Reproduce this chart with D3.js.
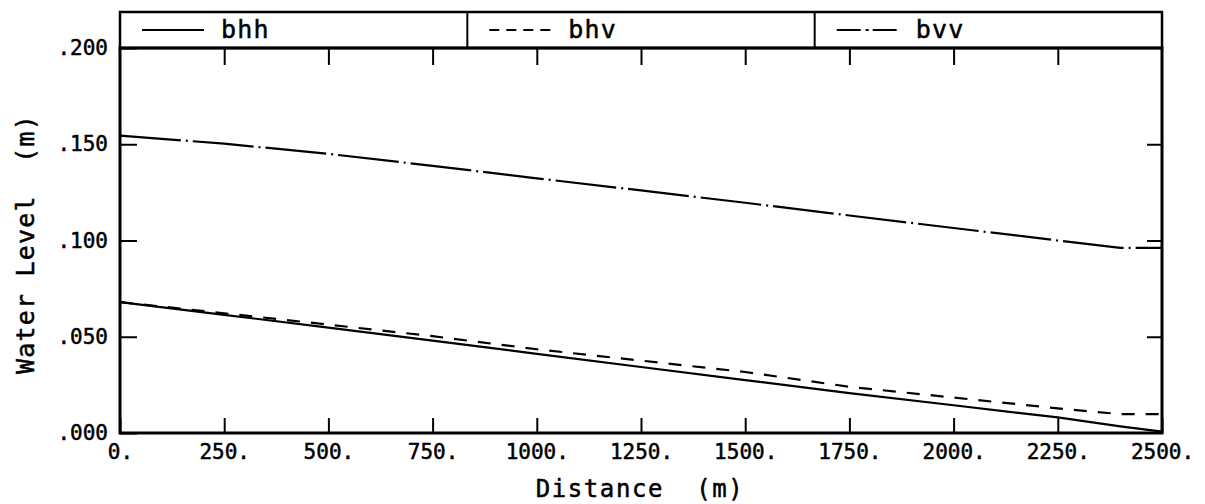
<!DOCTYPE html>
<html>
<head>
<meta charset="utf-8">
<script src="https://cdn.jsdelivr.net/npm/d3@7"></script>
<style>
  body { margin: 0; background: #fff; }
  svg text { font-family: "DejaVu Sans Mono", monospace; fill: #000; stroke: #000; stroke-width: 0.5px; }
</style>
</head>
<body>
<div class="viewbox"></div>
<script>
// water level along the channel
const distance = [0, 250, 500, 750, 1000, 1250, 1500, 1750, 2000, 2250, 2400, 2500];
const bhh = [0.068, 0.0614, 0.0547, 0.048, 0.0411, 0.0343, 0.0275, 0.0207, 0.0144, 0.0081, 0.0034, 0.0007];
const bhv = [0.068, 0.0622, 0.0563, 0.0503, 0.0435, 0.0376, 0.0317, 0.0240, 0.0184, 0.0128, 0.0098, 0.0098];
const bvv = [0.1545, 0.1503, 0.145, 0.1388, 0.1323, 0.126, 0.1196, 0.113, 0.1065, 0.100, 0.0962, 0.0962];

const seriesNames = ["bhh", "bhv", "bvv"];
const xTicks = [0, 250, 500, 750, 1000, 1250, 1500, 1750, 2000, 2250, 2500];
const yTicks = [0, 0.05, 0.1, 0.15, 0.2];

const svg_width = 1205;
const svg_height = 504;
// plot box edges (note: "top" is a window global, so use other names)
const plotL = 120, plotR = 1162, plotT = 48, plotB = 433;
const legendTop = 12;

// dash styles per series (plotter style line types)
const dashes = { bhh: null, bhv: "13,11", bvv: "61,5,2,5" };
const legendDashes = { bhh: null, bhv: "10,7", bvv: "24,5,3,4" };

let svg = d3.select(".viewbox")
  .append("svg")
  .attr("width", svg_width)
  .attr("height", svg_height);

let x = d3.scaleLinear().domain([0, 2500]).range([plotL, plotR]);
let y = d3.scaleLinear().domain([0, 0.2]).range([plotB, plotT]);

const yFmt = d => d3.format(".3f")(d).replace(/^0/, "");
const xFmt = d => d + ".";

// bottom axis, ticks pointing inwards
let xAxis = svg.append("g")
  .attr("transform", `translate(0,${plotB})`)
  .call(d3.axisBottom(x).tickValues(xTicks).tickSize(-15).tickSizeOuter(0).tickPadding(11).tickFormat(xFmt));
// top axis ticks only
let xTop = svg.append("g")
  .attr("transform", `translate(0,${plotT})`)
  .call(d3.axisTop(x).tickValues(xTicks.slice(1, -1)).tickSize(-17).tickSizeOuter(0).tickFormat(""));
let yAxis = svg.append("g")
  .attr("transform", `translate(${plotL},0)`)
  .call(d3.axisLeft(y).tickValues(yTicks).tickSize(-17).tickSizeOuter(0).tickPadding(12).tickFormat(yFmt));
let yRight = svg.append("g")
  .attr("transform", `translate(${plotR},0)`)
  .call(d3.axisRight(y).tickValues(yTicks.slice(1, -1)).tickSize(-15).tickSizeOuter(0).tickFormat(""));

[xAxis, xTop, yAxis, yRight].forEach(g => {
  g.select(".domain").remove();
  g.selectAll(".tick line").attr("stroke", "#000").attr("stroke-width", 2);
  g.selectAll(".tick text").attr("font-size", 21)
    .attr("font-family", "DejaVu Sans Mono").attr("fill", "#000");
});

// the series
const rows = distance.map((d, i) => ({ d: d, bhh: bhh[i], bhv: bhv[i], bvv: bvv[i] }));
seriesNames.forEach(name => {
  let line = d3.line().x(r => x(r.d)).y(r => y(r[name]));
  svg.append("path")
    .datum(rows)
    .attr("d", line)
    .attr("fill", "none")
    .attr("stroke", "#000")
    .attr("stroke-width", 2.2)
    .attr("stroke-dasharray", dashes[name]);
});

// frame of the plot and legend box
svg.append("rect")
  .attr("x", plotL).attr("y", plotT)
  .attr("width", plotR - plotL).attr("height", plotB - plotT)
  .attr("fill", "none").attr("stroke", "#000").attr("stroke-width", 3);
svg.append("rect")
  .attr("x", plotL).attr("y", legendTop)
  .attr("width", plotR - plotL).attr("height", plotT - legendTop)
  .attr("fill", "none").attr("stroke", "#000").attr("stroke-width", 2.5);

let cell = d3.scaleBand().domain(seriesNames).range([plotL, plotR]);
let legend = svg.selectAll(".legend")
  .data(seriesNames)
  .enter()
  .append("g")
  .attr("class", "legend")
  .attr("transform", d => `translate(${cell(d)},0)`);
legend.filter((d, i) => i > 0).append("line")
  .attr("x1", 0).attr("x2", 0).attr("y1", legendTop).attr("y2", plotT)
  .attr("stroke", "#000").attr("stroke-width", 2);
legend.append("line")
  .attr("x1", 22).attr("x2", 84)
  .attr("y1", 30).attr("y2", 30)
  .attr("stroke", "#000").attr("stroke-width", 2)
  .attr("stroke-dasharray", d => legendDashes[d]);
legend.append("text")
  .attr("x", 101).attr("y", 38)
  .attr("font-size", 25)
  .attr("letter-spacing", 1.2)
  .text(d => d);

// axis titles
svg.append("text")
  .attr("x", 640).attr("y", 497)
  .attr("text-anchor", "middle")
  .attr("font-size", 24)
  .attr("letter-spacing", 1.6)
  .attr("xml:space", "preserve")
  .text("Distance  (m)");
svg.append("text")
  .attr("transform", "translate(34,244) rotate(-90)")
  .attr("text-anchor", "middle")
  .attr("font-size", 25)
  .attr("letter-spacing", 1.2)
  .attr("xml:space", "preserve")
  .text("Water Level  (m)");
</script>
</body>
</html>
